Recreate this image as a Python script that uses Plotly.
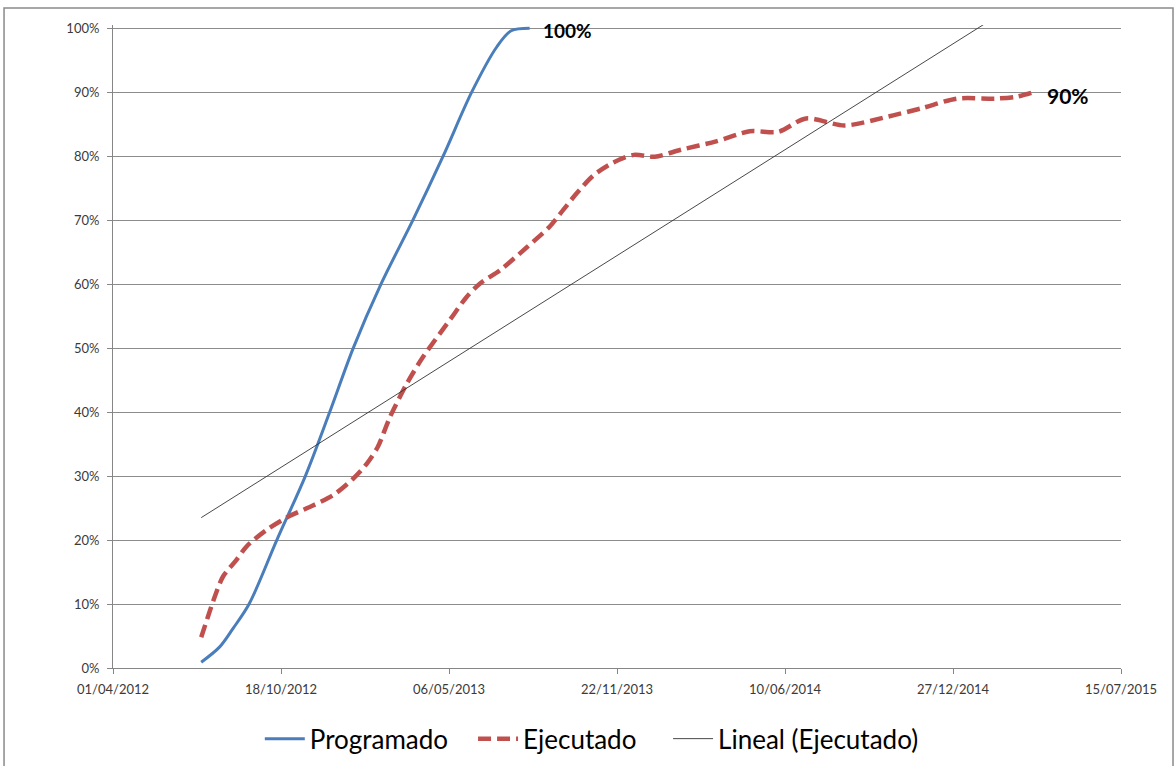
import plotly.graph_objects as go

# ---------------- data ----------------
prog_dates = ["2012-07-15", "2012-08-06", "2012-08-22", "2012-09-10", "2012-10-13",
              "2012-11-16", "2012-12-15", "2013-01-12", "2013-02-14", "2013-03-24",
              "2013-04-29", "2013-06-02", "2013-07-02", "2013-07-19", "2013-08-10"]
prog_values = [0.9, 3.3, 6.2, 10.0, 20.0,
               30.0, 40.0, 50.0, 60.0, 70.0,
               80.0, 90.0, 97.1, 99.6, 100.0]

ejec_dates = ["2012-07-15", "2012-07-23", "2012-07-31", "2012-08-10", "2012-08-26",
              "2012-09-07", "2012-10-01", "2012-10-26", "2012-11-25", "2012-12-19",
              "2013-01-12", "2013-01-28", "2013-02-10", "2013-02-25", "2013-03-17",
              "2013-04-05", "2013-05-07", "2013-05-27", "2013-06-12", "2013-07-06",
              "2013-08-07", "2013-09-03", "2013-09-19", "2013-10-05", "2013-10-25",
              "2013-11-16", "2013-12-12", "2014-01-06", "2014-02-06", "2014-03-20",
              "2014-04-29", "2014-06-02", "2014-07-05", "2014-08-20", "2014-10-11",
              "2014-11-20", "2015-01-01", "2015-02-16", "2015-03-13", "2015-04-02"]
ejec_values = [4.8, 8.0, 11.1, 14.3, 16.9,
               19.0, 21.6, 23.6, 25.4, 27.0,
               29.6, 31.9, 34.5, 39.3, 44.5,
               48.6, 54.4, 58.0, 60.1, 62.2,
               65.8, 69.0, 71.6, 74.2, 77.0,
               78.9, 80.2, 79.9, 81.0, 82.3,
               83.9, 83.8, 85.9, 84.8, 86.2,
               87.5, 89.0, 89.0, 89.3, 90.0]

trend_dates = ["2012-07-15", "2015-04-02"]
trend_values = [23.5, 105.5]

x_tick_dates = ["2012-04-01", "2012-10-18", "2013-05-06", "2013-11-22",
                "2014-06-10", "2014-12-27", "2015-07-15"]
x_tick_labels = ["01/04/2012", "18/10/2012", "06/05/2013", "22/11/2013",
                 "10/06/2014", "27/12/2014", "15/07/2015"]
y_tick_values = [0, 10, 20, 30, 40, 50, 60, 70, 80, 90, 100]
y_tick_labels = [f"{v}%" for v in y_tick_values]

series_names = ["Programado", "Ejecutado", "Lineal (Ejecutado)"]

# ---------------- figure ----------------
FONT = "Lato"
fig = go.Figure()

fig.add_trace(go.Scatter(
    x=prog_dates, y=prog_values, name=series_names[0] + "\u00a0" * 3, mode="lines",
    line=dict(color="#4A7EBB", width=3, shape="spline", smoothing=0.9),
))
fig.add_trace(go.Scatter(
    x=ejec_dates, y=ejec_values, name=series_names[1] + "\u00a0" * 4, mode="lines",
    line=dict(color="#C0504D", width=4.5, dash="13px,6px", shape="spline", smoothing=0.8),
))
fig.add_trace(go.Scatter(
    x=trend_dates, y=trend_values, name=series_names[2], mode="lines",
    line=dict(color="#333333", width=0.9),
))

fig.add_annotation(x=prog_dates[-1], y=prog_values[-1], text=f"<b>{prog_values[-1]:.0f}%</b>",
                   showarrow=False, xanchor="left", yanchor="middle", xshift=11, yshift=-2,
                   font=dict(family=FONT, size=19, color="#000000"))
fig.add_annotation(x=ejec_dates[-1], y=ejec_values[-1], text=f"<b>{ejec_values[-1]:.0f}%</b>",
                   showarrow=False, xanchor="left", yanchor="middle", xshift=11, yshift=-3,
                   font=dict(family=FONT, size=21, color="#000000"))

fig.update_xaxes(
    range=["2012-04-01", "2015-07-15"],
    tickmode="array", tickvals=x_tick_dates, ticktext=x_tick_labels,
    showgrid=False, showline=True, linecolor="#868686", linewidth=1,
    ticks="outside", ticklen=5, tickcolor="#868686", ticklabelstandoff=4,
    tickfont=dict(family=FONT, size=13, color="#3a3a3a"),
    zeroline=False, automargin=False,
)
fig.update_yaxes(
    range=[0, 100.5],
    tickmode="array", tickvals=y_tick_values, ticktext=y_tick_labels,
    showgrid=True, gridcolor="#8c8c8c", gridwidth=1,
    showline=True, linecolor="#868686", linewidth=1,
    ticks="outside", ticklen=5, tickcolor="#868686", ticklabelstandoff=5,
    tickfont=dict(family=FONT, size=13, color="#3a3a3a"),
    zeroline=False, automargin=False,
)

fig.add_shape(type="rect", xref="paper", yref="paper",
              x0=-0.1081, x1=1.0516, y0=-0.17, y1=1.0264,
              line=dict(color="#8a8a8a", width=1.5), layer="below")

fig.update_layout(
    width=1176, height=766,
    margin=dict(l=113, r=55, t=25, b=98, autoexpand=False),
    paper_bgcolor="white", plot_bgcolor="white",
    font=dict(family=FONT),
    showlegend=True,
    legend=dict(orientation="h", x=0.475, xanchor="center", y=-0.11, yanchor="middle",
                font=dict(family=FONT, size=26, color="#000000"),
                bgcolor="rgba(0,0,0,0)", itemwidth=40),
)

fig.write_html("out.html", config={"displayModeBar": False},
               post_script="document.body.style.margin='0px';")
